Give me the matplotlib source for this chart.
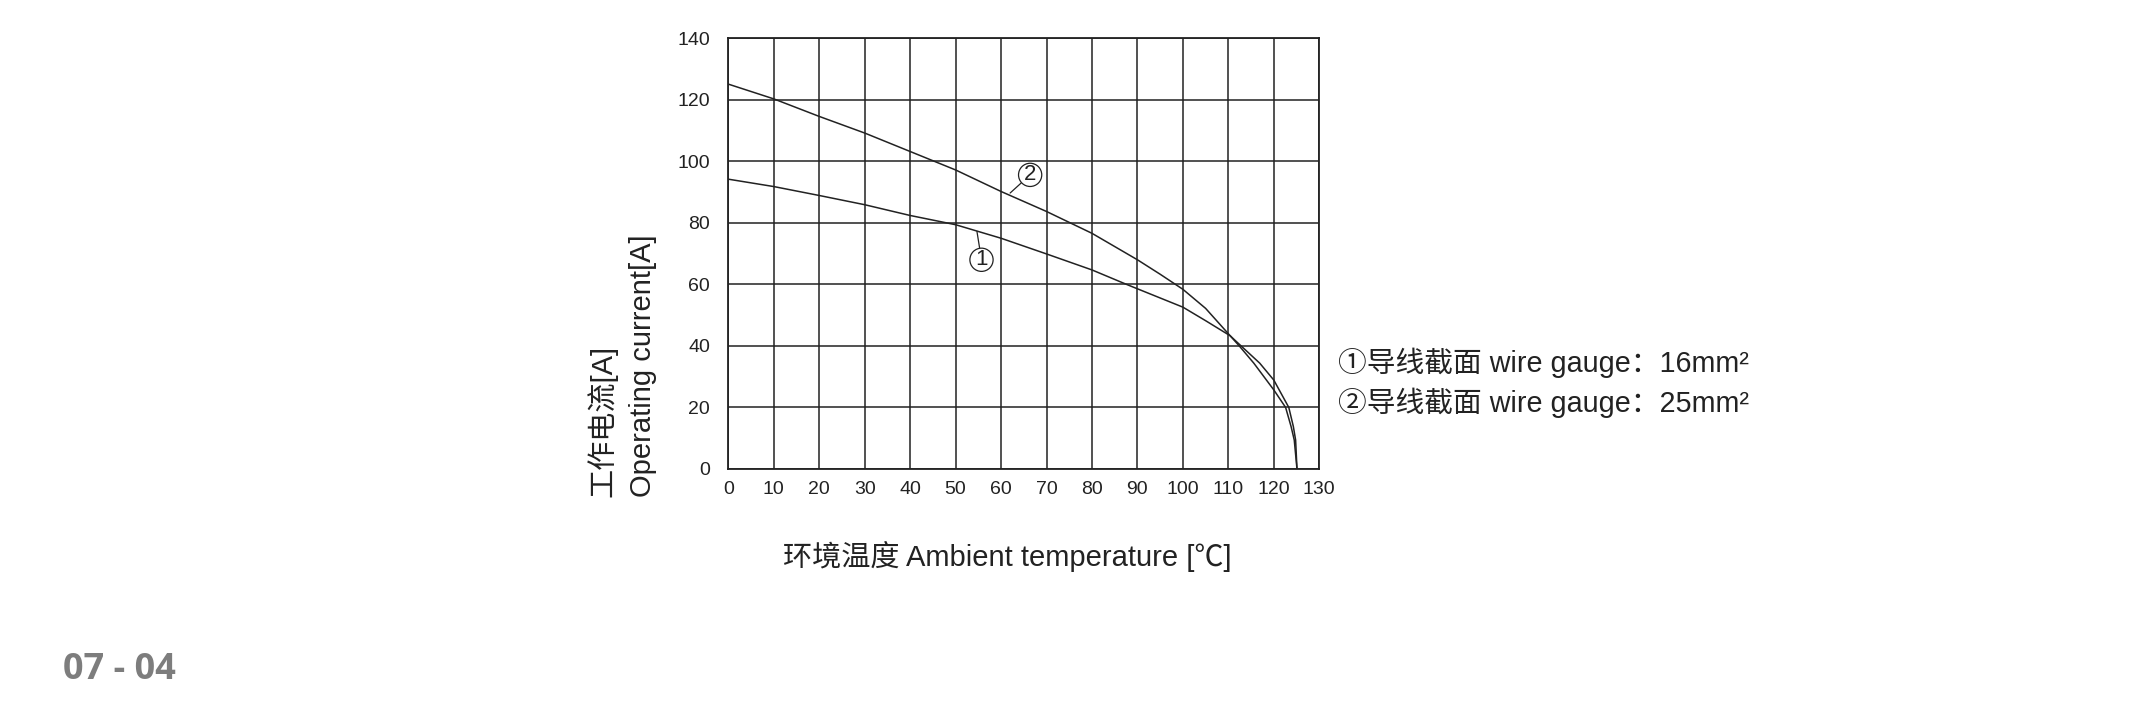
import matplotlib
matplotlib.use('Agg')
import matplotlib.pyplot as plt

plt.rcParams['font.family'] = ['Liberation Sans', 'Noto Sans CJK SC', 'DejaVu Sans']

# curve 1: wire gauge 16mm2
temp_16 = [0, 10, 20, 30, 40, 50, 60, 70, 80, 87.6, 100, 105, 110.4, 112.8, 116.9, 120, 123.3, 124.3, 124.8, 125.1]
current_16 = [94.2, 91.8, 88.9, 85.9, 82.4, 79.4, 75.0, 69.9, 64.7, 60, 52.6, 48.2, 43.3, 40, 34.4, 28.9, 20, 13.8, 9.4, 0]

# curve 2: wire gauge 25mm2
temp_25 = [0, 10, 20, 30, 40, 50, 60, 70, 80, 90, 95, 100, 105, 110.4, 112.4, 115.6, 120, 122.6, 123.8, 124.5, 125.1]
current_25 = [125.1, 120.3, 114.6, 109.2, 103.2, 97.2, 90.2, 83.7, 76.6, 68.0, 63.3, 58.4, 52.2, 43.3, 40, 34.4, 25.7, 20, 13.8, 9.4, 0]

x_ticks = list(range(0, 131, 10))
y_ticks = list(range(0, 141, 20))

legend_lines = ['\u2460导线截面 wire gauge\uff1a16mm\u00b2', '\u2461导线截面 wire gauge\uff1a25mm\u00b2']

line_color = '#222222'

fig = plt.figure(figsize=(21.56, 7.01), dpi=100)
ax = fig.add_axes([0.3378, 0.3310, 0.2741, 0.6144])

ax.plot(temp_16, current_16, color=line_color, linewidth=1.1, zorder=3)
ax.plot(temp_25, current_25, color=line_color, linewidth=1.1, zorder=3)

ax.set_xlim(0, 130)
ax.set_ylim(0, 140)
ax.set_xticks(x_ticks)
ax.set_yticks(y_ticks)
ax.grid(True, color=line_color, linewidth=1.1)
ax.tick_params(axis='both', length=0, labelsize=14, colors='#222222')
ax.tick_params(axis='y', pad=13)
ax.tick_params(axis='x', pad=9)
for s in ax.spines.values():
    s.set_color(line_color)
    s.set_linewidth(1.3)

# circled curve labels with leader lines
circ = dict(boxstyle='circle,pad=0.05', fc='white', ec=line_color, lw=0.9)
ax.annotate('1', xy=(54.7, 77.2), xytext=(55.7, 68.0), ha='center', va='center',
            fontsize=16, color=line_color, bbox=circ,
            arrowprops=dict(arrowstyle='-', color=line_color, lw=0.9, shrinkA=0, shrinkB=0))
ax.annotate('2', xy=(62.0, 89.7), xytext=(66.4, 95.6), ha='center', va='center',
            fontsize=16, color=line_color, bbox=circ,
            arrowprops=dict(arrowstyle='-', color=line_color, lw=0.9, shrinkA=0, shrinkB=0))

# axis labels
fig.text(602 / 2156, 1 - 497 / 701, '工作电流[A]', rotation=90, ha='center', va='bottom',
         fontsize=21, color='#222222')
fig.text(643 / 2156, 1 - 497 / 701, 'Operating current[A]', rotation=90, ha='center', va='bottom',
         fontsize=21, color='#222222')
fig.text(1007 / 2156, 1 - 556 / 701, '环境温度 Ambient temperature [\u2103]', ha='center', va='center',
         fontsize=21, color='#222222')

# legend text on the right
fig.text(1338 / 2156, 1 - 363 / 701, legend_lines[0], ha='left', va='center', fontsize=20.7, color='#222222')
fig.text(1338 / 2156, 1 - 403 / 701, legend_lines[1], ha='left', va='center', fontsize=20.7, color='#222222')

# page number
fig.text(63 / 2156, 1 - 670 / 701, '07 - 04', ha='left', va='center', fontsize=26,
         fontweight='bold', family=['Open Sans', 'DejaVu Sans'], color='#7d7d7d')

fig.savefig('out.png', dpi=100)
